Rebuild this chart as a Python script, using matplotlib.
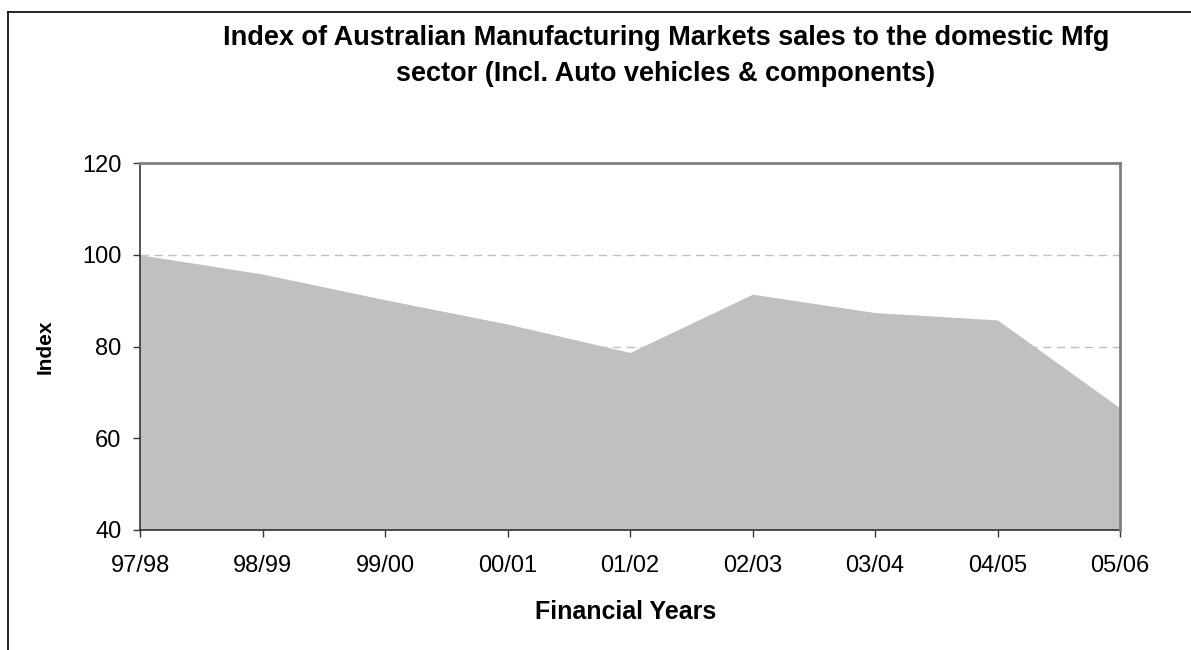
import numpy as np
import matplotlib.pyplot as plt
from matplotlib.lines import Line2D

plt.rcParams['font.family'] = ['Liberation Sans', 'DejaVu Sans']

years = ["97/98", "98/99", "99/00", "00/01", "01/02", "02/03", "03/04", "04/05", "05/06"]
index_vals = [100.0, 95.8, 90.2, 84.9, 78.7, 91.4, 87.4, 85.8, 66.6]
y_ticks = [40, 60, 80, 100, 120]

W, H = 1191, 650
fig = plt.figure(figsize=(W / 100, H / 100), dpi=100)
ax = fig.add_axes([140 / W, 1 - 530 / H, 980 / W, 367 / H])

x = np.arange(len(years))
ax.fill_between(x, 40, index_vals, color="#c0c0c0", linewidth=0, zorder=2)

for g in [60, 80, 100]:
    ax.axhline(g, color="#c0c0c0", linestyle=(0, (6, 4)), linewidth=1, zorder=1)

ax.set_xlim(0, len(years) - 1)
ax.set_ylim(40, 120)
ax.set_xticks(x)
ax.set_xticklabels(years)
ax.set_yticks(y_ticks)

for side in ["top", "right"]:
    ax.spines[side].set_color("#808080")
    ax.spines[side].set_linewidth(2)
for side in ["left", "bottom"]:
    ax.spines[side].set_color("#333333")
    ax.spines[side].set_linewidth(1.2)
ax.spines["top"].set_zorder(3)
ax.spines["right"].set_zorder(3)

ax.tick_params(axis="both", direction="out", length=5, width=1, color="#333333",
               labelsize=17)
ax.tick_params(axis="y", pad=8.5)
ax.tick_params(axis="x", pad=13)

# axis titles and chart title
fig.text(626 / W, 1 - 612 / H, "Financial Years", ha="center", va="center",
         fontsize=18, fontweight="bold")
fig.text(45 / W, 1 - 347 / H, "Index", ha="center", va="center", rotation=90,
         fontsize=15, fontweight="bold")
fig.text(666 / W, 1 - 45 / H,
         "Index of Australian Manufacturing Markets sales to the domestic Mfg",
         ha="center", va="baseline", fontsize=19.5, fontweight="bold")
fig.text(666 / W, 1 - 81 / H, "sector (Incl. Auto vehicles & components)",
         ha="center", va="baseline", fontsize=19.5, fontweight="bold")

# outer chart frame (top and left edges)
fig.add_artist(Line2D([8 / W, 1], [1 - 12 / H, 1 - 12 / H], color="black", linewidth=1.2))
fig.add_artist(Line2D([8 / W, 8 / W], [0, 1 - 12 / H], color="black", linewidth=1.2))

fig.savefig("out.png", dpi=100, facecolor="white")
